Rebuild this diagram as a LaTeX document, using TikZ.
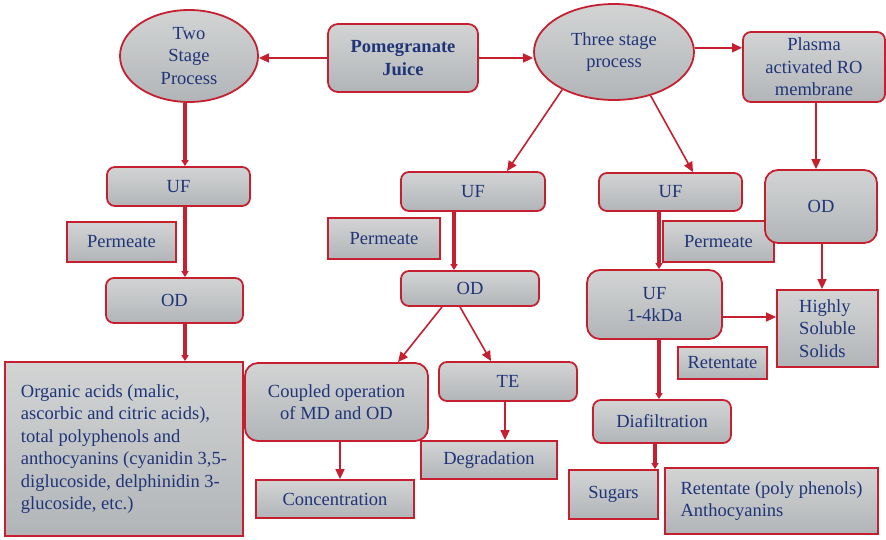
\documentclass[tikz,border=0pt]{standalone}
\usepackage{fontspec}
\setmainfont{Liberation Serif}
\newfontfamily\jserif{Liberation Serif}
\usetikzlibrary{shapes.geometric,arrows.meta}
\definecolor{jred}{RGB}{198,32,48}
\definecolor{navy}{RGB}{32,52,120}
\definecolor{gtop}{RGB}{210,212,212}
\definecolor{gbot}{RGB}{178,181,184}
\newcommand{\jfont}{\jserif\fontsize{18.5}{22.5}\selectfont}
\tikzset{
  box/.style={draw=jred, line width=1.8pt, top color=gtop, bottom color=gbot,
    text=navy, font=\jfont, align=center, inner sep=0pt},
  rbox/.style={box, rounded corners=8pt},
  bigr/.style={box, rounded corners=13pt},
  sbox/.style={box},
  oval/.style={box, ellipse},
  lbl/.style={text=navy, font=\jfont, align=center},
  arr/.style={draw=jred, line width=1.6pt, -{Triangle[length=10pt,width=9pt]}},
  tarr/.style={draw=jred, line width=3.2pt, -{Triangle[length=6pt,width=7pt]}}
}
\begin{document}
\begin{tikzpicture}[x=1pt,y=-1pt]
\useasboundingbox (0,0) rectangle (886,539);
% top row
\node[oval, minimum width=138pt, minimum height=92pt,
  label={[lbl]center:Two\\Stage\\Process}] (ts) at (189,56) {};
\node[rbox, rounded corners=10pt, minimum width=150pt, minimum height=68pt, font=\jfont\bfseries] (pj) at (403,58) {Pomegranate\\Juice};
\node[oval, minimum width=160pt, minimum height=96pt,
  label={[lbl]center:Three stage\\process}] (th) at (614,52) {};
\node[rbox, minimum width=142pt, minimum height=70pt] (pl) at (814,67) {Plasma\\activated RO\\membrane};
% left column
\node[rbox, minimum width=143pt, minimum height=39pt] (uf1) at (178.5,186.5) {UF};
\node[sbox, minimum width=109pt, minimum height=40pt] (pe1) at (121.5,242) {Permeate};
\node[rbox, minimum width=137pt, minimum height=45pt] (od1) at (174.5,300.5) {OD};
\node[sbox, minimum width=238pt, minimum height=174pt, align=left] (big) at (124,449)
 {Organic acids (malic,\\ascorbic and citric acids),\\total polyphenols and\\anthocyanins (cyanidin 3,5-\\diglucoside, delphinidin 3-\\glucoside, etc.)};
% middle column
\node[rbox, minimum width=144pt, minimum height=39pt] (uf2) at (473,191.5) {UF};
\node[sbox, minimum width=112pt, minimum height=41pt] (pe2) at (384,238.5) {Permeate};
\node[rbox, minimum width=138pt, minimum height=35pt] (od2) at (470,288.5) {OD};
\node[bigr, minimum width=183pt, minimum height=78pt] (cp) at (336.5,402) {Coupled operation\\of MD and OD};
\node[sbox, minimum width=158pt, minimum height=38pt] (co) at (335,499) {Concentration};
\node[rbox, minimum width=138pt, minimum height=39pt] (te) at (508,381.5) {TE};
\node[sbox, minimum width=136pt, minimum height=38pt] (dg) at (489,460) {Degradation};
% right column
\node[rbox, minimum width=143pt, minimum height=38pt] (uf3) at (670.5,192) {UF};
\node[sbox, minimum width=111pt, minimum height=41pt] (pe3) at (718.5,241.5) {Permeate};
\node[bigr, minimum width=112pt, minimum height=73pt] (od3) at (821,206.5) {OD};
\node[bigr, minimum width=135pt, minimum height=69pt] (uf4) at (654.5,304.5) {UF\\1-4kDa};
\node[sbox, minimum width=101pt, minimum height=77pt, align=left] (hs) at (827.5,328.5) {Highly\\Soluble\\Solids};
\node[sbox, minimum width=89pt, minimum height=32pt] (re1) at (722.5,363) {Retentate};
\node[rbox, minimum width=138pt, minimum height=43pt] (df) at (662,421.5) {Diafiltration};
\node[sbox, minimum width=89pt, minimum height=49pt] (sg) at (613.5,494.5) {Sugars};
\node[sbox, minimum width=213pt, minimum height=66pt, align=left] (rp) at (771.5,501) {Retentate (poly phenols)\\Anthocyanins};
% connectors
\draw[arr] (pj.west) -- (pj.west -| ts.east);
\draw[arr] (pj.east) -- (pj.east -| th.west);
\draw[arr] (th.3) -- (th.3 -| pl.west);
\draw[tarr] (185,0 |- ts.south) -- (185,0 |- uf1.north);
\draw[tarr] (185,0 |- uf1.south) -- (185,0 |- od1.north);
\draw[tarr] (185,0 |- od1.south) -- (185,0 |- big.north);
\draw[arr] (th.216) -- (507,0 |- uf2.north);
\draw[tarr] (454,0 |- uf2.south) -- (454,0 |- od2.north);
\draw[arr] (442,0 |- od2.south) -- (398,0 |- cp.north);
\draw[arr] (460,0 |- od2.south) -- (491,0 |- te.north);
\draw[arr] (340,0 |- cp.south) -- (340,0 |- co.north);
\draw[arr] (505,0 |- te.south) -- (505,0 |- dg.north);
\draw[arr] (th.-50) -- (693,0 |- uf3.north);
\draw[arr] (816,0 |- pl.south) -- (816,0 |- od3.north);
\draw[tarr] (659,0 |- uf3.south) -- (659,0 |- uf4.north);
\draw[arr] (822,0 |- od3.south) -- (822,0 |- hs.north);
\draw[arr] (uf4.east |- 0,317) -- (hs.west |- 0,317);
\draw[tarr] (659,0 |- uf4.south) -- (659,0 |- df.north);
\draw[tarr] (655,0 |- df.south) -- (655,0 |- sg.north);
\end{tikzpicture}
\end{document}
